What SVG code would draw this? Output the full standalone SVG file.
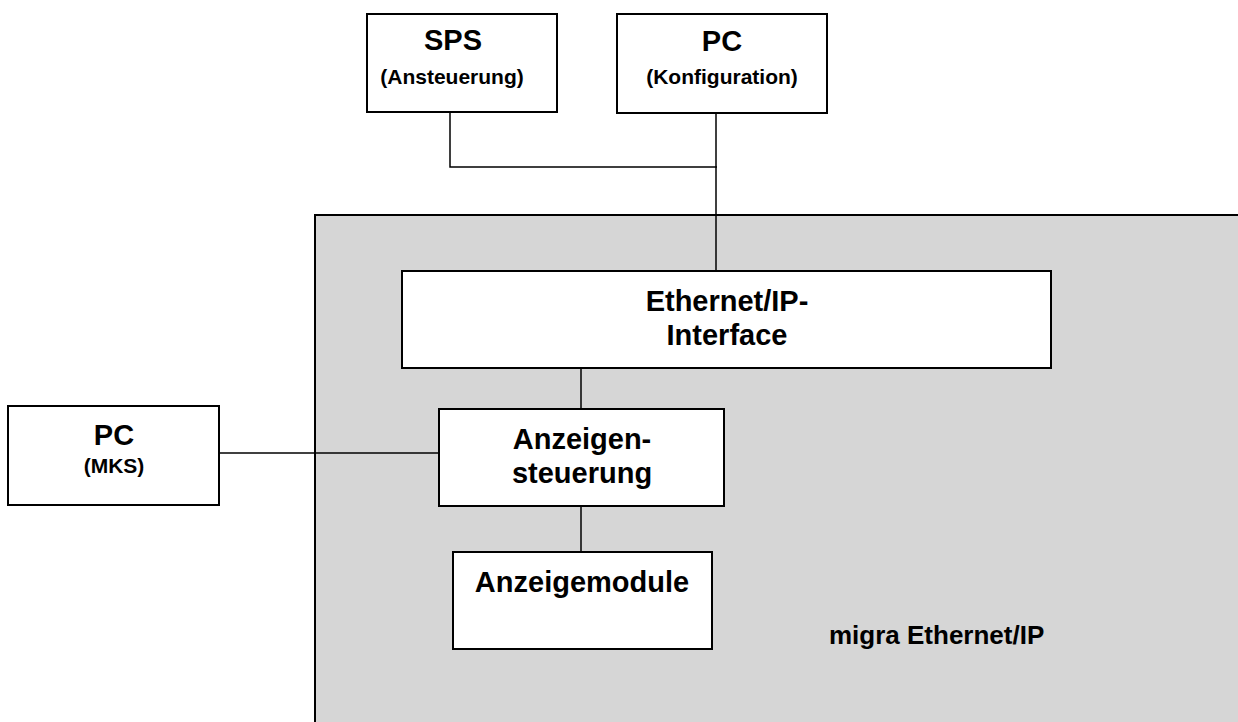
<svg xmlns="http://www.w3.org/2000/svg" width="1238" height="722" viewBox="0 0 1238 722">
<style>
.box{fill:#fff;stroke:#000;stroke-width:2}
.area{fill:#d6d6d6;stroke:#000;stroke-width:2}
.t{font-family:"Liberation Sans",Arial,sans-serif;font-weight:bold;font-size:29px;fill:#000;text-anchor:middle}
.s{font-family:"Liberation Sans",Arial,sans-serif;font-weight:bold;font-size:21px;fill:#000;text-anchor:middle}
.m{font-family:"Liberation Sans",Arial,sans-serif;font-weight:bold;font-size:26px;fill:#000}
.c{fill:none;stroke:#000;stroke-width:1.5}
</style>
<rect width="1238" height="722" fill="#fff"/>
<g id="migra-ethernet-ip">
<rect class="area" x="315" y="215" width="1000" height="600"/>
<text class="m" x="829" y="644">migra Ethernet/IP</text>
</g>
<g id="connectors">
<path class="c" d="M450 113 V167 H717"/>
<path class="c" d="M716 113 V271"/>
<path class="c" d="M581 368 V409"/>
<path class="c" d="M581 506 V552"/>
<path class="c" d="M219 453 H439"/>
</g>
<g id="sps">
<rect class="box" x="367" y="14" width="190" height="98"/>
<text class="t" x="453" y="50">SPS</text>
<text class="s" x="452" y="84">(Ansteuerung)</text>
</g>
<g id="pc-konfiguration">
<rect class="box" x="617" y="14" width="210" height="99"/>
<text class="t" x="722" y="51">PC</text>
<text class="s" x="722" y="84">(Konfiguration)</text>
</g>
<g id="ethernet-ip-interface">
<rect class="box" x="402" y="271" width="649" height="97"/>
<text class="t" x="727" y="311">Ethernet/IP-</text>
<text class="t" x="727" y="345">Interface</text>
</g>
<g id="pc-mks">
<rect class="box" x="8" y="406" width="211" height="99"/>
<text class="t" x="114" y="445">PC</text>
<text class="s" x="114" y="473">(MKS)</text>
</g>
<g id="anzeigensteuerung">
<rect class="box" x="439" y="409" width="285" height="97"/>
<text class="t" x="582" y="449">Anzeigen-</text>
<text class="t" x="582" y="483">steuerung</text>
</g>
<g id="anzeigemodule">
<rect class="box" x="453" y="552" width="259" height="97"/>
<text class="t" x="582" y="592">Anzeigemodule</text>
</g>
</svg>
